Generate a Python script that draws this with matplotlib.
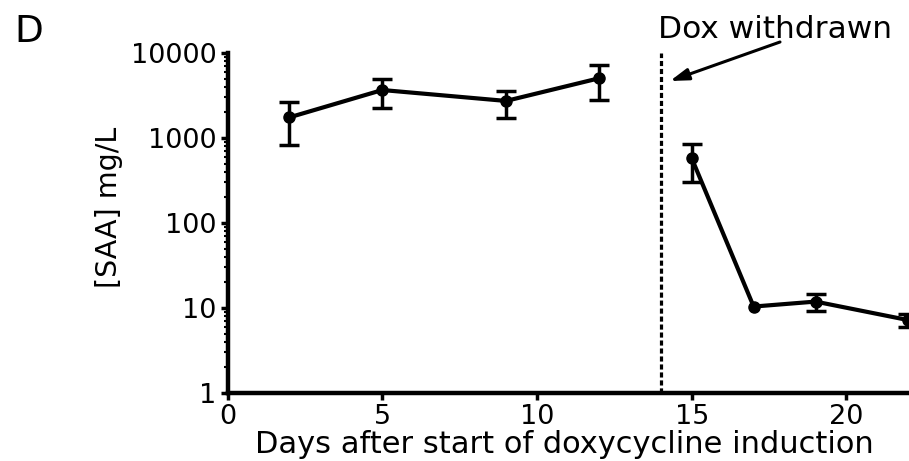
import numpy as np
import matplotlib
matplotlib.use("Agg")
import matplotlib.pyplot as plt

# days and SAA values (mg/L), error bars as low / high ends
days_on = [2, 5, 9, 12]
saa_on = [1750, 3670, 2730, 5040]
low_on = [830, 2270, 1710, 2800]
high_on = [2630, 4900, 3600, 7220]

days_off = [15, 17, 19, 22]
saa_off = [577, 10.4, 11.9, 7.2]
low_off = [306, 10.4, 9.3, 5.9]
high_off = [843, 10.4, 14.6, 8.5]

dox_day = 14
xticks = [0, 5, 10, 15, 20]
yticks = [1, 10, 100, 1000, 10000]

plt.rcParams["font.family"] = "DejaVu Sans"

fig = plt.figure(figsize=(9.09, 4.61), dpi=100)
ax = fig.add_axes([0.2503, 0.1475, 0.7497, 0.7375])

for d, v, lo, hi in [(days_on, saa_on, low_on, high_on),
                     (days_off, saa_off, low_off, high_off)]:
    d = np.array(d)
    v = np.array(v)
    lo = np.array(lo)
    hi = np.array(hi)
    ax.plot(d, v, color="black", lw=3, marker="o", ms=8, clip_on=False,
            zorder=3)
    # points with no visible spread get no error bar
    m = hi > lo
    ax.errorbar(d[m], v[m], yerr=[v[m] - lo[m], hi[m] - v[m]], fmt="none",
                ecolor="black", capsize=7, capthick=2.5, elinewidth=2.5,
                clip_on=False, zorder=3)

ax.axvline(dox_day, color="black", lw=2.3, linestyle=(0, (1.6, 0.9)))

ax.set_yscale("log")
ax.set_ylim(1, 10000)
ax.set_xlim(0, 22.02)
ax.set_xticks(xticks)
ax.set_yticks(yticks)
ax.set_yticklabels([str(t) for t in yticks])
ax.tick_params(axis="both", labelsize=19.5, width=2.5, length=5, direction="out")
ax.tick_params(axis="y", which="minor", width=1.5, length=3)
ax.tick_params(axis="y", pad=3)
ax.tick_params(axis="x", pad=3)

for s in ["top", "right"]:
    ax.spines[s].set_visible(False)
for s in ["left", "bottom"]:
    ax.spines[s].set_linewidth(3.2)

fig.text(109 / 909, 0.551, "[SAA] mg/L", rotation=90, ha="center", va="center",
         fontsize=20.5)
fig.text(564 / 909, 1 - 453 / 461, "Days after start of doxycycline induction",
         ha="center", va="baseline", fontsize=22)
fig.text(14 / 909, 1 - 42 / 461, "D", ha="left", va="baseline", fontsize=27)
fig.text(775 / 909, 1 - 38 / 461, "Dox withdrawn", ha="center", va="baseline",
         fontsize=22.5)
ax.annotate("", xy=(670 / 909, 1 - 81 / 461), xycoords="figure fraction",
            xytext=(780 / 909, 1 - 42 / 461), textcoords="figure fraction",
            arrowprops=dict(arrowstyle="-|>,head_length=1.1,head_width=0.35",
                            color="black", lw=2.2, shrinkA=0, shrinkB=0))

plt.savefig("out.png", dpi=100)
